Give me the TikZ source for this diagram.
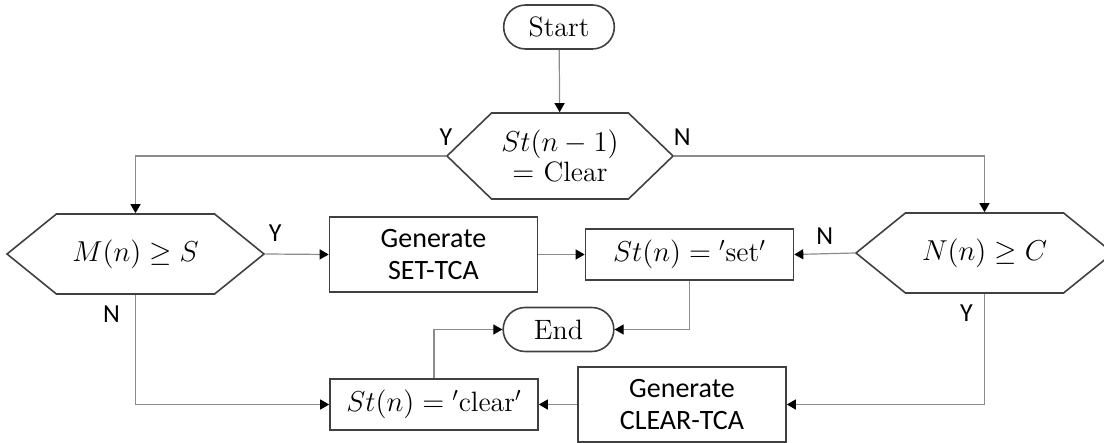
\documentclass[tikz,border=0pt]{standalone}
\usepackage{fontspec}
\newfontfamily\labfont{Carlito}
\usetikzlibrary{arrows.meta,shapes.symbols,shapes.misc}

\begin{document}
\begin{tikzpicture}[x=0.5pt,y=-0.5pt,font=\fontsize{14}{15}\selectfont]
\tikzstyle{decision} = [signal, signal to=east and west, draw=black!75, line width=0.8pt,
minimum width=128.5pt, minimum height=40pt, signal pointer angle=78, inner sep=1pt, align=center]
\tikzstyle{block} = [rectangle, draw=black!75, line width=0.8pt, minimum width=104pt,
minimum height=37.5pt, align=center, font=\labfont\fontsize{14}{16}\selectfont]
\tikzstyle{state} = [rectangle, draw=black!75, line width=0.8pt, minimum width=104pt, minimum height=25.5pt]
\tikzstyle{terminal} = [rounded rectangle, draw=black!75, line width=0.8pt, minimum width=62pt, minimum height=22pt]
\tikzstyle{line} = [draw=black!45, line width=0.6pt, -{Triangle[length=4.5pt,width=5pt,color=black]}]
\tikzstyle{yn} = [font=\labfont\fontsize{13}{15}\selectfont, inner sep=2pt]
\useasboundingbox (0,0) rectangle (1104,443);
% top
\node [terminal] (start) at (559,27) {Start};
\node [decision, minimum width=113pt, minimum height=43pt, signal pointer angle=88] (clrchk) at (560,156)
{$St(n-1)$\\ $=$ Clear};
% middle row
\node [decision] (mchk) at (135.5,254) {$M(n)\geq S$};
\node [block] (genset) at (433.5,254.5) {Generate\\ SET-TCA};
\node [state] (stset) at (689.5,254.5) {$St(n) = {'}\mathrm{set}{'}$};
\node [decision] (nchk) at (984.5,253) {$N(n)\geq C$};
% bottom
\node [terminal] (stop) at (558.5,329.5) {End};
\node [state] (stclr) at (434,404.5) {$St(n) = {'}\mathrm{clear}{'}$};
\node [block] (genclr) at (682,404.5) {Generate\\ CLEAR-TCA};

\tikzstyle{every path}=[line]
\path (start) -- (clrchk);
\path (clrchk.west) -| node [yn, pos=0, above=3pt] {Y} (mchk.north);
\path (clrchk.east) -| node [yn, pos=0, above=3pt, xshift=4pt] {N} (nchk.north);
\path (mchk.east) -- node [yn, pos=0, above=4pt, xshift=5pt] {Y} (genset.west);
\path (mchk.south) |- node [yn, pos=0, below=3pt, xshift=-12pt] {N} (stclr.west);
\path (genset) -- (stset);
\path (nchk.west) -- node [yn, pos=0, above=2pt, xshift=-15pt] {N} (stset.east);
\path (nchk.south) |- node [yn, pos=0, below=3pt, xshift=-9pt] {Y} (genclr.east);
\path (genclr) -- (stclr);
\path (stset.south) |- (stop.east);
\path (stclr.north) |- (stop.west);

\end{tikzpicture}
\end{document}
